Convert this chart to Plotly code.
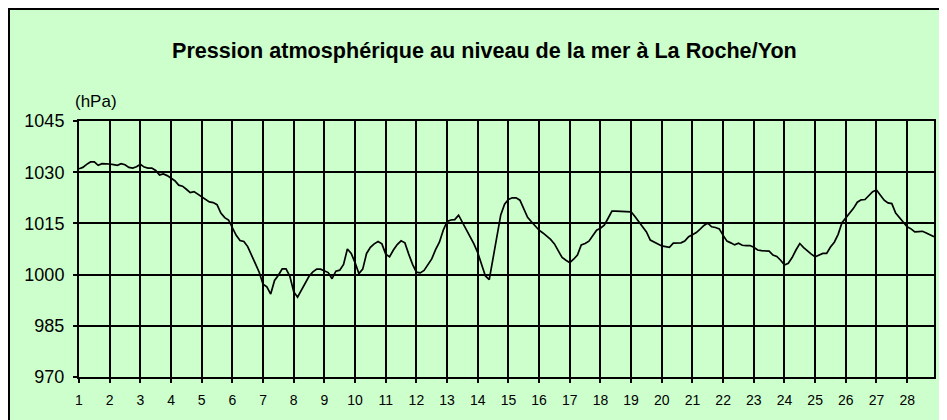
import plotly.graph_objects as go

# ---- data (3-hourly sea-level pressure, hPa) ----
first_day = 1
readings_per_day = 8
day_ticks = list(range(1, 29))
y_ticks = [970, 985, 1000, 1015, 1030, 1045]

pressure_hpa = [
    # day 1
    1031.0, 1031.4, 1032.3, 1033.0, 1033.0, 1032.0, 1032.5, 1032.5,
    # day 2
    1032.4, 1032.2, 1032.0, 1032.5, 1032.2, 1031.4, 1031.2, 1031.6,
    # day 3
    1032.3, 1031.5, 1031.2, 1031.2, 1030.5, 1029.2, 1029.5, 1029.0,
    # day 4
    1028.3, 1027.5, 1026.2, 1025.9, 1025.0, 1024.0, 1024.3, 1023.6,
    # day 5
    1022.8, 1022.0, 1021.3, 1021.1, 1020.5, 1018.0, 1016.7, 1016.0,
    # day 6
    1013.8, 1011.5, 1010.0, 1009.7, 1008.2, 1005.5, 1003.2, 1000.7,
    # day 7
    997.2, 996.4, 994.3, 998.3, 999.8, 1001.7, 1001.7, 999.5,
    # day 8
    995.0, 993.4, 995.5, 997.5, 999.5, 1000.8, 1001.6, 1001.6,
    # day 9
    1001.0, 1000.6, 998.8, 1001.0, 1001.3, 1003.0, 1007.5, 1006.2,
    # day 10
    1003.5, 1000.3, 1001.6, 1006.2, 1008.0, 1009.0, 1009.7, 1009.0,
    # day 11
    1006.0, 1005.2, 1007.2, 1008.8, 1009.9, 1009.3, 1006.0, 1003.0,
    # day 12
    1000.7, 1000.5, 1001.2, 1002.8, 1004.6, 1007.3, 1009.5, 1013.0,
    # day 13
    1015.6, 1016.0, 1016.1, 1017.4, 1015.3, 1012.8, 1011.1, 1009.0,
    # day 14
    1006.4, 1003.0, 999.6, 998.5, 1004.5, 1010.8, 1017.5, 1020.6,
    # day 15
    1022.0, 1022.5, 1022.5, 1021.8, 1019.3, 1016.8, 1015.5, 1014.3,
    # day 16
    1013.0, 1012.2, 1011.2, 1010.3, 1009.0, 1006.8, 1005.0, 1004.2,
    # day 17
    1003.5, 1004.5, 1005.7, 1008.7, 1009.1, 1009.8, 1011.5, 1013.0,
    # day 18
    1013.6, 1014.5, 1016.5, 1018.6, 1018.6, 1018.6, 1018.6, 1018.6,
    # day 19
    1018.4, 1017.0, 1015.6, 1014.2, 1012.5, 1010.1, 1009.6, 1009.1,
    # day 20
    1008.4, 1008.2, 1008.0, 1009.2, 1009.3, 1009.3, 1009.8, 1011.1,
    # day 21
    1011.7, 1012.3, 1013.3, 1014.4, 1015.1, 1014.0, 1013.8, 1013.4,
    # day 22
    1011.5, 1009.8, 1009.3, 1008.7, 1009.2, 1008.6, 1008.5, 1008.5,
    # day 23
    1008.0, 1007.2, 1007.0, 1007.0, 1006.9, 1005.7, 1005.3, 1004.2,
    # day 24
    1002.8, 1003.3, 1005.0, 1007.2, 1009.1, 1007.9, 1006.9, 1006.0,
    # day 25
    1005.2, 1005.8, 1006.2, 1006.2, 1008.1, 1009.5, 1011.8, 1015.2,
    # day 26
    1016.6, 1018.2, 1019.4, 1021.2, 1021.9, 1022.0, 1023.1, 1024.3,
    # day 27
    1024.8, 1023.3, 1021.8, 1021.0, 1020.8, 1018.0, 1016.6, 1015.3,
    # day 28
    1014.0, 1013.4, 1012.5, 1012.6, 1012.7, 1012.2, 1011.6, 1011.1,
]

time_days = [first_day + i / readings_per_day for i in range(len(pressure_hpa))]

title_text = "Pression atmosphérique au niveau de la mer à La Roche/Yon"
unit_text = "(hPa)"

# ---- layout geometry (figure pixels; the page adds an 8px body margin) ----
W, H = 939, 412
ML, MR, MT, MB = 71, 13, 113, 43
PW, PH = W - ML - MR, H - MT - MB


def px_x(px):
    return (px - ML) / PW


def px_y(py):
    return (H - MB - py) / PH


BG = "#CCFFCC"
FONT = "Liberation Sans, Arial, sans-serif"

fig = go.Figure()
fig.add_trace(go.Scatter(
    x=time_days, y=pressure_hpa, mode="lines",
    line=dict(color="black", width=1.7), hoverinfo="skip", showlegend=False,
))

axis_common = dict(
    showline=True, linecolor="black", linewidth=2, mirror=True,
    showgrid=True, gridcolor="black", gridwidth=1.6,
    ticks="outside", ticklen=4, tickwidth=1.6, tickcolor="black",
    zeroline=False, fixedrange=True,
)

fig.update_layout(
    width=W, height=H,
    margin=dict(l=ML, r=MR, t=MT, b=MB, pad=0),
    paper_bgcolor=BG, plot_bgcolor=BG,
    font=dict(family=FONT, color="black"),
    xaxis=dict(
        range=[1, 28.875], tickmode="array", tickvals=day_ticks,
        ticktext=[str(d) for d in day_ticks],
        tickfont=dict(size=14, family=FONT, color="black"),
        ticklabelstandoff=5, **axis_common,
    ),
    yaxis=dict(
        range=[970, 1045], tickmode="array", tickvals=y_ticks,
        ticktext=[str(v) for v in y_ticks],
        tickfont=dict(size=18, family=FONT, color="black"),
        ticklabelstandoff=5, **axis_common,
    ),
    showlegend=False,
)

fig.add_annotation(
    text="<b>" + title_text + "</b>", xref="paper", yref="paper",
    x=px_x(476), y=px_y(42), xanchor="center", yanchor="middle",
    showarrow=False, font=dict(size=21.6, family=FONT, color="black"),
)
fig.add_annotation(
    text=unit_text, xref="paper", yref="paper",
    x=px_x(65), y=px_y(93), xanchor="left", yanchor="middle",
    showarrow=False, font=dict(size=17, family=FONT, color="black"),
)

# outer black frame of the chart (left and top edges are the visible ones)
fig.add_shape(type="line", xref="paper", yref="paper",
              x0=px_x(1), x1=px_x(1), y0=px_y(0), y1=px_y(H + 10),
              line=dict(color="black", width=2), layer="above")
fig.add_shape(type="line", xref="paper", yref="paper",
              x0=px_x(0), x1=px_x(W + 10), y0=px_y(1), y1=px_y(1),
              line=dict(color="black", width=2), layer="above")

fig.write_html("out.html")
